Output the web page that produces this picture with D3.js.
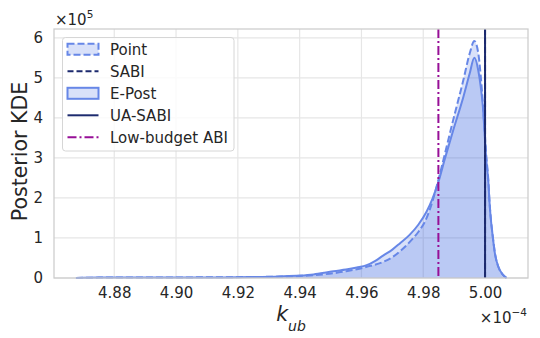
<!DOCTYPE html>
<html><head><meta charset="utf-8">
<script src="https://cdn.jsdelivr.net/npm/d3@7/dist/d3.min.js"></script>
<style>body{margin:0;background:#fff}text{font-family:"DejaVu Sans",sans-serif;fill:#262626}</style>
</head><body><svg id="c" width="540" height="338"></svg>
<script>
// k_ub in units of 1e-4, density in units of 1e5
const epostX = [4.8676,4.875,4.885,4.895,4.905,4.915,4.925,4.9335,4.940,4.9445,4.948,4.951,4.955,4.9585,4.9617,4.9645,4.967,4.970,4.9725,4.9755,4.9784,4.9811,4.9830,4.9849,4.9870,4.9897,4.9930,4.9950,4.99653,4.9978,4.9986,4.9993,4.9998,5.0003,5.0011,5.0014,5.0018,5.0025,5.0032,5.0043,5.0059,5.0070];
const epostY = [0.00,0.01,0.012,0.01,0.012,0.015,0.025,0.04,0.06,0.09,0.13,0.17,0.21,0.26,0.32,0.43,0.56,0.71,0.87,1.07,1.33,1.66,1.98,2.40,2.98,3.69,4.53,5.10,5.50,5.19,4.78,4.28,3.69,3.05,2.36,1.94,1.53,1.03,0.61,0.28,0.07,0.00];
const pointX = [4.8676,4.875,4.885,4.895,4.905,4.915,4.925,4.9335,4.9445,4.951,4.955,4.9585,4.9617,4.967,4.970,4.9725,4.9768,4.9784,4.9811,4.9830,4.9849,4.9870,4.9897,4.9930,4.9950,4.99653,4.9978,4.9986,4.9993,4.9998,5.0003,5.0011,5.0014,5.0018,5.0025,5.0032,5.0043,5.0059,5.0070];
const pointY = [0.00,0.01,0.015,0.01,0.015,0.02,0.025,0.035,0.07,0.12,0.17,0.22,0.28,0.40,0.52,0.67,1.00,1.15,1.50,1.92,2.45,3.10,3.95,4.95,5.60,5.92,5.62,5.05,4.35,3.75,3.15,2.40,1.97,1.55,1.04,0.62,0.28,0.07,0.00];
const markerNames = ["SABI","UA-SABI","Low-budget ABI"];
const markerValues = [5.000,5.000,4.9849];
const xTicks = [4.88,4.90,4.92,4.94,4.96,4.98,5.00];
const yTicks = [0,1,2,3,4,5,6];
const legendNames = ["Point","SABI","E-Post","UA-SABI","Low-budget ABI"];

const svg = d3.select("#c");
const L=54,R=528,T=29,B=278;
const x = d3.scaleLinear().domain([4.8605,5.0139]).range([L,R]);
const y = d3.scaleLinear().domain([0,6.22]).range([B,T]);
const blue="royalblue", lineBlue="#6787e7", navy="#1c2a6e", mag="#970f97";

// grid
const g = svg.append("g");
g.selectAll(".vx").data(xTicks).enter().append("line")
 .attr("x1",d=>x(d)).attr("x2",d=>x(d)).attr("y1",T).attr("y2",B)
 .attr("stroke","#e6e6e6").attr("stroke-width",1.2);
g.selectAll(".hy").data(yTicks).enter().append("line")
 .attr("x1",L).attr("x2",R).attr("y1",d=>y(d)).attr("y2",d=>y(d))
 .attr("stroke","#e6e6e6").attr("stroke-width",1.2);

// axes labels via d3 axes
const xa = svg.append("g").attr("transform",`translate(0,${B})`)
 .call(d3.axisBottom(x).tickValues(xTicks).tickFormat(d3.format(".2f")).tickSize(0).tickPadding(9.5));
xa.select(".domain").remove();
xa.selectAll("text").attr("font-size",15).attr("fill","#262626").attr("font-family","DejaVu Sans");
const ya = svg.append("g").attr("transform",`translate(${L},0)`)
 .call(d3.axisLeft(y).tickValues(yTicks).tickFormat(d3.format("d")).tickSize(0).tickPadding(11));
ya.select(".domain").remove();
ya.selectAll("text").attr("font-size",15).attr("fill","#262626").attr("font-family","DejaVu Sans");

// densities
const ptData = pointX.map((v,i)=>[v,pointY[i]]);
const epData = epostX.map((v,i)=>[v,epostY[i]]);
const area = d3.area().x(d=>x(d[0])).y0(y(0)).y1(d=>y(d[1])).curve(d3.curveMonotoneX);
const line = d3.line().x(d=>x(d[0])).y(d=>y(d[1])).curve(d3.curveMonotoneX);
svg.append("path").attr("d",area(ptData)).attr("fill",blue).attr("fill-opacity",0.2);
svg.append("path").attr("d",area(epData)).attr("fill",blue).attr("fill-opacity",0.2);
svg.append("path").attr("d",line(ptData)).attr("fill","none").attr("stroke",lineBlue).attr("stroke-width",2).attr("stroke-dasharray","7,3");
svg.append("path").attr("d",line(epData)).attr("fill","none").attr("stroke",lineBlue).attr("stroke-width",2);

// vertical markers
const mStyle = {"SABI":{c:navy,d:"6,3"},"UA-SABI":{c:navy,d:null},"Low-budget ABI":{c:mag,d:"9,3,2,3"}};
markerNames.forEach((n,i)=>{
  const l = svg.append("line").attr("x1",x(markerValues[i])).attr("x2",x(markerValues[i]))
   .attr("y1",T).attr("y2",B).attr("stroke",mStyle[n].c).attr("stroke-width",2);
  if(mStyle[n].d) l.attr("stroke-dasharray",mStyle[n].d);
});

// spines
svg.append("rect").attr("x",L).attr("y",T).attr("width",R-L).attr("height",B-T)
 .attr("fill","none").attr("stroke","#cccccc").attr("stroke-width",1.25);

// offset texts
const t1 = svg.append("text").attr("x",55).attr("y",25).attr("font-size",15);
t1.append("tspan").text("×10");
t1.append("tspan").attr("dy",-7).attr("font-size",10.5).text("5");
const t2 = svg.append("text").attr("x",527).attr("y",322.5).attr("font-size",15).attr("text-anchor","end");
t2.append("tspan").text("×10");
t2.append("tspan").attr("dy",-7).attr("font-size",10.5).text("−4");

// axis titles
svg.append("text").attr("transform","translate(27,151.5) rotate(-90)").attr("text-anchor","middle")
 .attr("font-size",20.5).text("Posterior KDE");
const xl = svg.append("text").attr("x",291).attr("y",321).attr("text-anchor","middle").attr("font-size",20.5);
xl.append("tspan").attr("font-style","italic").text("k");
xl.append("tspan").attr("font-style","italic").attr("font-size",14).attr("dy",9.5).text("ub");

// legend
const lg = svg.append("g");
lg.append("rect").attr("x",62.5).attr("y",37.5).attr("width",171.5).attr("height",113.5).attr("rx",3)
 .attr("fill","#fff").attr("fill-opacity",0.8).attr("stroke","#d6d6d6").attr("stroke-width",1);
legendNames.forEach((n,i)=>{
  const cy = 49.3 + i*22;
  const hx0=67.5, hx1=98.5;
  if(n==="Point"||n==="E-Post"){
    const r = lg.append("rect").attr("x",hx0).attr("y",cy-5.5).attr("width",hx1-hx0).attr("height",11)
      .attr("fill",blue).attr("fill-opacity",0.2).attr("stroke",lineBlue).attr("stroke-width",2);
    if(n==="Point") r.attr("stroke-dasharray","7,3");
  } else {
    const st = mStyle[n];
    const l = lg.append("line").attr("x1",hx0).attr("x2",hx1).attr("y1",cy).attr("y2",cy)
      .attr("stroke",st.c).attr("stroke-width",2);
    if(st.d) l.attr("stroke-dasharray",st.d);
  }
  lg.append("text").attr("x",110).attr("y",cy).attr("dy","0.36em").attr("font-size",15).text(n);
});
</script></body></html>
